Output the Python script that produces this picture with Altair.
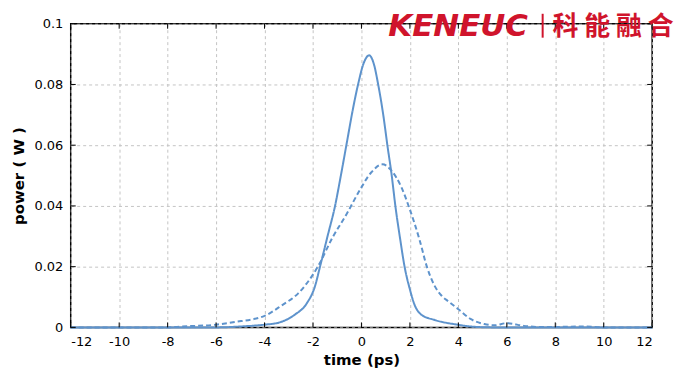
import altair as alt
import pandas as pd

# solid pulse (output)
solid_t = [-12, -6, -5.0, -4.0, -3.4, -2.75, -2.25, -1.92, -1.71, -1.4, -1.09, -0.85, -0.6, -0.35, -0.14, 0.1, 0.32, 0.52, 0.69, 0.9, 1.07, 1.25, 1.40, 1.6, 1.78, 1.99, 2.19, 2.47, 3.0, 3.97, 4.66, 5.5, 12]
solid_p = [0, 0, 0.0003, 0.0009, 0.0016, 0.0042, 0.008, 0.0135, 0.02, 0.03, 0.04, 0.05, 0.061, 0.072, 0.08, 0.0872, 0.0896, 0.0865, 0.08, 0.07, 0.06, 0.05, 0.04, 0.029, 0.02, 0.0128, 0.0075, 0.0042, 0.0025, 0.0009, 0.0002, 0, 0]

# dashed pulse (input)
dash_t = [-12, -8, -7.4, -6.0, -5.3, -4.0, -3.3, -2.6, -1.8, -1.2, -0.6, -0.07, 0.4, 0.87, 1.2, 1.64, 1.99, 2.4, 2.7, 3.0, 3.3, 3.6, 4.0, 4.5, 5.07, 5.5, 6.0, 6.7, 7.5, 9.3, 10, 12]
dash_p = [0, 0, 0.0003, 0.0009, 0.0017, 0.0038, 0.0072, 0.0113, 0.02, 0.0295, 0.0375, 0.0452, 0.051, 0.0537, 0.052, 0.0463, 0.039, 0.0288, 0.02, 0.014, 0.0105, 0.0085, 0.006, 0.0028, 0.0011, 0.0007, 0.0014, 0.0005, 0.0001, 0.0003, 0, 0]

x_ticks = list(range(-12, 13, 2))
y_ticks = [0, 0.02, 0.04, 0.06, 0.08, 0.1]

W, H = 584, 305
LINE = "#5e93cc"
FONT = "DejaVu Sans"

df = pd.concat([
    pd.DataFrame({"t": solid_t, "p": solid_p, "s": "solid"}),
    pd.DataFrame({"t": dash_t, "p": dash_p, "s": "dashed"}),
])

xs = alt.Scale(domain=[-12, 12], nice=False)
ys = alt.Scale(domain=[0, 0.1], nice=False)

lines = alt.Chart(df).mark_line(strokeWidth=2, color=LINE, interpolate="monotone").encode(
    x=alt.X("t:Q", scale=xs, title="time (ps)",
            axis=alt.Axis(values=x_ticks, labelExpr="'' + datum.value", grid=True,
                          gridDash=[3, 3], gridColor="#c4c4c4", ticks=False, domain=False,
                          labelPadding=8, titlePadding=4)),
    y=alt.Y("p:Q", scale=ys, title="power ( W )",
            axis=alt.Axis(values=y_ticks, format="~g", grid=True,
                          gridDash=[3, 3], gridColor="#c4c4c4", ticks=False, domain=False,
                          labelPadding=8, titlePadding=7)),
    strokeDash=alt.StrokeDash("s:N", scale=alt.Scale(domain=["solid", "dashed"], range=[[1, 0], [5, 3]]), legend=None),
    detail="s:N",
)

xt = pd.DataFrame({"v": x_ticks})
yt = pd.DataFrame({"v": y_ticks})

bot_ticks = alt.Chart(xt).mark_rule(color="black", strokeWidth=1).encode(
    x=alt.X("v:Q", scale=xs), y=alt.value(H), y2=alt.value(H - 5))
top_ticks = alt.Chart(xt).mark_rule(color="black", strokeWidth=1).encode(
    x=alt.X("v:Q", scale=xs), y=alt.value(0), y2=alt.value(5))
left_ticks = alt.Chart(yt).mark_rule(color="black", strokeWidth=1).encode(
    y=alt.Y("v:Q", scale=ys), x=alt.value(0), x2=alt.value(5))
right_ticks = alt.Chart(yt).mark_rule(color="black", strokeWidth=1).encode(
    y=alt.Y("v:Q", scale=ys), x=alt.value(W), x2=alt.value(W - 5))

logo_df = pd.DataFrame({"a": [0]})
logo1 = alt.Chart(logo_df).mark_text(
    text="KENEUC", font="DejaVu Sans", fontWeight="bold", fontStyle="italic",
    fontSize=31, color="#d0142c", align="left", baseline="middle").encode(
    x=alt.value(319), y=alt.value(3))
logo2 = alt.Chart(logo_df).mark_rule(color="#d0142c", strokeWidth=2).encode(
    x=alt.value(474), y=alt.value(-10), y2=alt.value(14))
logo3 = alt.Chart(logo_df).mark_text(
    text="科 能 融 合", font="Noto Sans CJK SC", fontWeight="bold", fontSize=26,
    color="#d0142c", align="left", baseline="middle").encode(
    x=alt.value(484), y=alt.value(3))

chart = alt.layer(lines, bot_ticks, top_ticks, left_ticks, right_ticks, logo1, logo2, logo3).properties(
    width=W, height=H,
    autosize=alt.AutoSizeParams(type="none"),
    padding={"left": 63, "top": 15, "right": 40, "bottom": 46},
).configure_view(
    stroke="black", strokeWidth=1.5
).configure_axis(
    labelFont=FONT, labelFontSize=13, labelColor="black",
    titleFont=FONT, titleFontSize=15, titleFontWeight="bold", titleColor="black",
)

chart.save("out.html", embed_options={"renderer": "svg", "actions": False})
